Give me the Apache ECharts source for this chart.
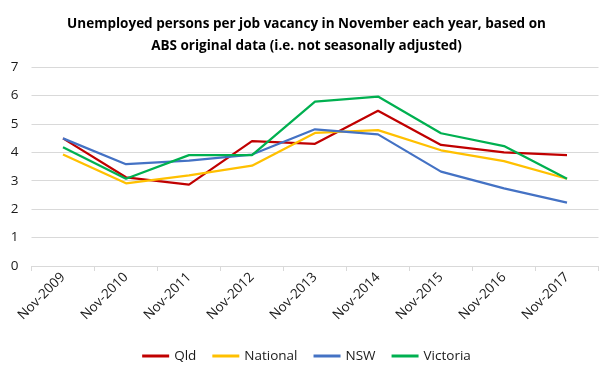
<!DOCTYPE html>
<html><head><meta charset="utf-8">
<script src="https://cdn.jsdelivr.net/npm/echarts@6/dist/echarts.min.js"></script>
<style>html,body{margin:0;padding:0;background:#fff}#c{width:613px;height:379px}</style>
</head><body><div id="c"></div>
<script>
var categories = ["Nov-2009","Nov-2010","Nov-2011","Nov-2012","Nov-2013","Nov-2014","Nov-2015","Nov-2016","Nov-2017"];
var qld      = [4.49, 3.12, 2.86, 4.39, 4.30, 5.46, 4.26, 4.00, 3.90];
var national = [3.92, 2.91, 3.19, 3.53, 4.68, 4.78, 4.07, 3.69, 3.07];
var nsw      = [4.49, 3.58, 3.71, 3.92, 4.81, 4.63, 3.32, 2.73, 2.23];
var victoria = [4.18, 3.07, 3.90, 3.90, 5.78, 5.96, 4.67, 4.22, 3.07];
var yTicks = [0,1,2,3,4,5,6,7];

var font = "'Open Sans', 'Liberation Sans', sans-serif";
function s(name, data, color){
  return {name:name, type:'line', data:data, symbol:'none', smooth:false,
    lineStyle:{color:color, width:2.25}, itemStyle:{color:color}};
}
var chart = echarts.init(document.getElementById('c'), null, {renderer:'canvas'});
chart.setOption({
  animation:false,
  title:{text:'Unemployed persons per job vacancy in November each year, based on\nABS original data (i.e. not seasonally adjusted)',
    left:'center', top:8,
    textStyle:{fontFamily:font, fontSize:13.5, fontWeight:'bold', color:'#000', lineHeight:22}},
  legend:{bottom:11, left:'center', itemWidth:27, itemHeight:3, itemGap:16,
    icon:'rect',
    textStyle:{fontFamily:font, fontSize:13.5, color:'#1a1a1a'},
    data:['Qld','National','NSW','Victoria']},
  grid:{left:31.5, right:14.5, top:67, bottom:113, containLabel:false},
  xAxis:{type:'category', data:categories, boundaryGap:true,
    axisLine:{lineStyle:{color:'#d9d9d9'}},
    axisTick:{show:true, length:5, lineStyle:{color:'#d9d9d9'}},
    axisLabel:{rotate:45, fontFamily:font, fontSize:13.5, color:'#1a1a1a', margin:9, interval:0}},
  yAxis:{type:'value', min:yTicks[0], max:yTicks[yTicks.length-1], interval:1,
    axisLine:{show:false}, axisTick:{show:false},
    splitLine:{lineStyle:{color:'#d9d9d9'}},
    axisLabel:{fontFamily:font, fontSize:13.5, color:'#1a1a1a', margin:13}},
  series:[s('Qld',qld,'#C00000'), s('National',national,'#FFC000'), s('NSW',nsw,'#4472C4'), s('Victoria',victoria,'#00B050')]
});
</script></body></html>
